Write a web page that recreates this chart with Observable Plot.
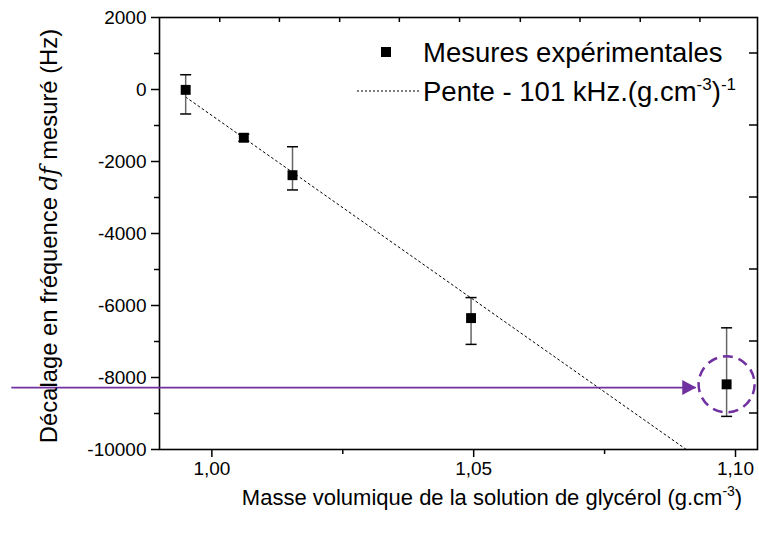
<!DOCTYPE html>
<html><head><meta charset="utf-8">
<script src="https://cdn.jsdelivr.net/npm/d3@7"></script>
<script src="https://cdn.jsdelivr.net/npm/@observablehq/plot@0.6"></script>
<style>
body{margin:0;background:#fff;}
#chart{position:relative;width:759px;height:533px;overflow:hidden;}
#chart svg{overflow:visible;}
</style>
</head><body><div id="chart"></div>
<script>
// Measured points: density (g.cm-3) vs frequency shift (Hz)
const density = [0.995, 1.0061, 1.0154, 1.0495, 1.0983];
const shift   = [-10, -1340, -2380, -6350, -8190];
const errLow  = [-680, -1440, -2790, -7080, -9080];
const errHigh = [410, -1240, -1590, -5780, -6620];
// Linear fit line (slope ~ -101 kHz per g.cm-3)
const fitX = [0.995, 1.0906];
const fitY = [-210, -10000];
// Highlight annotation: arrow to the last point
const highlightIndex = 4;
const arrowY = -8280;
const arrowFromX = 0.9618;
const arrowToX = 1.0925;
// Ticks
const xTicks = [1.00, 1.05, 1.10];
const xMinor = [1.025, 1.075];
const yTicks = [-10000, -8000, -6000, -4000, -2000, 0, 2000];
const yMinor = [-9000, -7000, -5000, -3000, -1000, 1000];
const topTicks = [1.0016, 1.0130, 1.0245, 1.0359, 1.0474, 1.0590, 1.0704, 1.0819, 1.0933];
const rightTicks = [1000, -1000, -3000, -5000, -7000, -9000];
// Texts
const legendLabels = ["Mesures expérimentales", "Pente - 101 kHz.(g.cm", "-3", ")", "-1"];
const xTitle = ["Masse volumique de la solution de glycérol (g.cm", "-3", ")"];
const yTitle = ["Décalage en fréquence ", "df", " mesuré (Hz)"];

const purple = "#7030A0";
const font = "'Liberation Sans', Arial, sans-serif";

const meas = density.map((x, i) => ({x, y: shift[i], lo: errLow[i], hi: errHigh[i]}));
const fit = fitX.map((x, i) => ({x, y: fitY[i]}));
const hl = [meas[highlightIndex]];
const arrow = [{y: arrowY, x1: arrowFromX, x2: arrowToX}];

const capSymbol = {draw(ctx) { ctx.moveTo(-5.5, 0); ctx.lineTo(5.5, 0); }};
const headSymbol = {draw(ctx) { ctx.moveTo(0, 0); ctx.lineTo(-14, -7.5); ctx.lineTo(-14, 7.5); ctx.closePath(); }};
const fmtX = d => d.toFixed(2).replace(".", ",");

const chart = Plot.plot({
  width: 759, height: 533,
  marginLeft: 159, marginRight: 2, marginTop: 17, marginBottom: 84,
  x: {domain: [0.99, 1.1042]},
  y: {domain: [-10000, 2000]},
  style: {fontFamily: font, fontSize: "19px", color: "#000", background: "#fff", overflow: "visible"},
  marks: [
    Plot.axisX(xTicks, {tickSize: 8, tickPadding: 4, tickFormat: fmtX, label: null, strokeWidth: 1.5, fontSize: 19}),
    Plot.axisX(xMinor, {tickSize: 5, tickFormat: () => "", label: null, strokeWidth: 1.5}),
    Plot.axisY(yTicks, {tickSize: 8, tickPadding: 5, tickFormat: d => String(d), label: null, strokeWidth: 1.5, fontSize: 19}),
    Plot.axisY(yMinor, {tickSize: 5, tickFormat: () => "", label: null, strokeWidth: 1.5}),
    Plot.frame({stroke: "#000", strokeWidth: 1.6}),
    Plot.line(fit, {x: "x", y: "y", stroke: "#000", strokeWidth: 1, strokeDasharray: "2,3"}),
    Plot.ruleX(meas, {x: "x", y1: "lo", y2: "hi", stroke: "#666", strokeWidth: 1.5}),
    Plot.dot(meas, {x: "x", y: "lo", symbol: capSymbol, stroke: "#000", fill: "none", strokeWidth: 1.5}),
    Plot.dot(meas, {x: "x", y: "hi", symbol: capSymbol, stroke: "#000", fill: "none", strokeWidth: 1.5}),
    Plot.dot(meas, {x: "x", y: "y", symbol: "square", r: 5.6, fill: "#000", stroke: "none"}),
    Plot.dot(hl, {x: "x", y: "y", r: 28, fill: "none", stroke: purple, strokeWidth: 2.5, strokeDasharray: "10,6"}),
    Plot.ruleY(arrow, {y: "y", x1: "x1", x2: "x2", stroke: purple, strokeWidth: 1.6, clip: false}),
    Plot.dot(arrow, {x: "x2", y: "y", symbol: headSymbol, fill: purple, stroke: "none", r: 8}),
  ]
});
document.getElementById("chart").appendChild(chart);

const svg = d3.select(chart);
const sx = chart.scale("x"), sy = chart.scale("y");
const frameTop = sy.apply(2000), frameRight = sx.apply(1.1042);
// mirrored ticks (top and right, inward)
const g = svg.append("g").attr("stroke", "#000").attr("stroke-width", 1.5);
topTicks.forEach(t => g.append("line").attr("x1", sx.apply(t)).attr("x2", sx.apply(t)).attr("y1", frameTop).attr("y2", frameTop + 5));
rightTicks.forEach(t => g.append("line").attr("x1", frameRight - 8).attr("x2", frameRight).attr("y1", sy.apply(t)).attr("y2", sy.apply(t)));

// Legend
const lg = svg.append("g").attr("font-family", font).attr("font-size", 27.5).attr("fill", "#000").attr("text-anchor", "start");
lg.append("rect").attr("x", 381).attr("y", 47).attr("width", 10).attr("height", 10).attr("fill", "#000");
lg.append("text").attr("x", 423).attr("y", 62).text(legendLabels[0]);
lg.append("line").attr("x1", 357).attr("x2", 419).attr("y1", 91).attr("y2", 91)
  .attr("stroke", "#000").attr("stroke-width", 1).attr("stroke-dasharray", "2,2");
const t2 = lg.append("text").attr("x", 423).attr("y", 101);
t2.append("tspan").text(legendLabels[1]);
t2.append("tspan").attr("dy", -11).attr("font-size", 17).text(legendLabels[2]);
t2.append("tspan").attr("dy", 11).text(legendLabels[3]);
t2.append("tspan").attr("dy", -11).attr("font-size", 17).text(legendLabels[4]);

// X title
const xt = svg.append("text").attr("x", 492).attr("y", 505).attr("text-anchor", "middle")
  .attr("font-family", font).attr("font-size", 22).attr("fill", "#000");
xt.append("tspan").text(xTitle[0]);
xt.append("tspan").attr("dy", -9).attr("font-size", 14).text(xTitle[1]);
xt.append("tspan").attr("dy", 9).text(xTitle[2]);

// Y title
const yt = svg.append("text").attr("transform", "translate(57,236) rotate(-90)").attr("text-anchor", "middle")
  .attr("font-family", font).attr("font-size", 23.8).attr("fill", "#000");
yt.append("tspan").text(yTitle[0]);
yt.append("tspan").attr("font-family", "'DejaVu Serif', 'Liberation Serif', serif").attr("font-style", "italic").text(yTitle[1]);
yt.append("tspan").text(yTitle[2]);
</script>
</body></html>
